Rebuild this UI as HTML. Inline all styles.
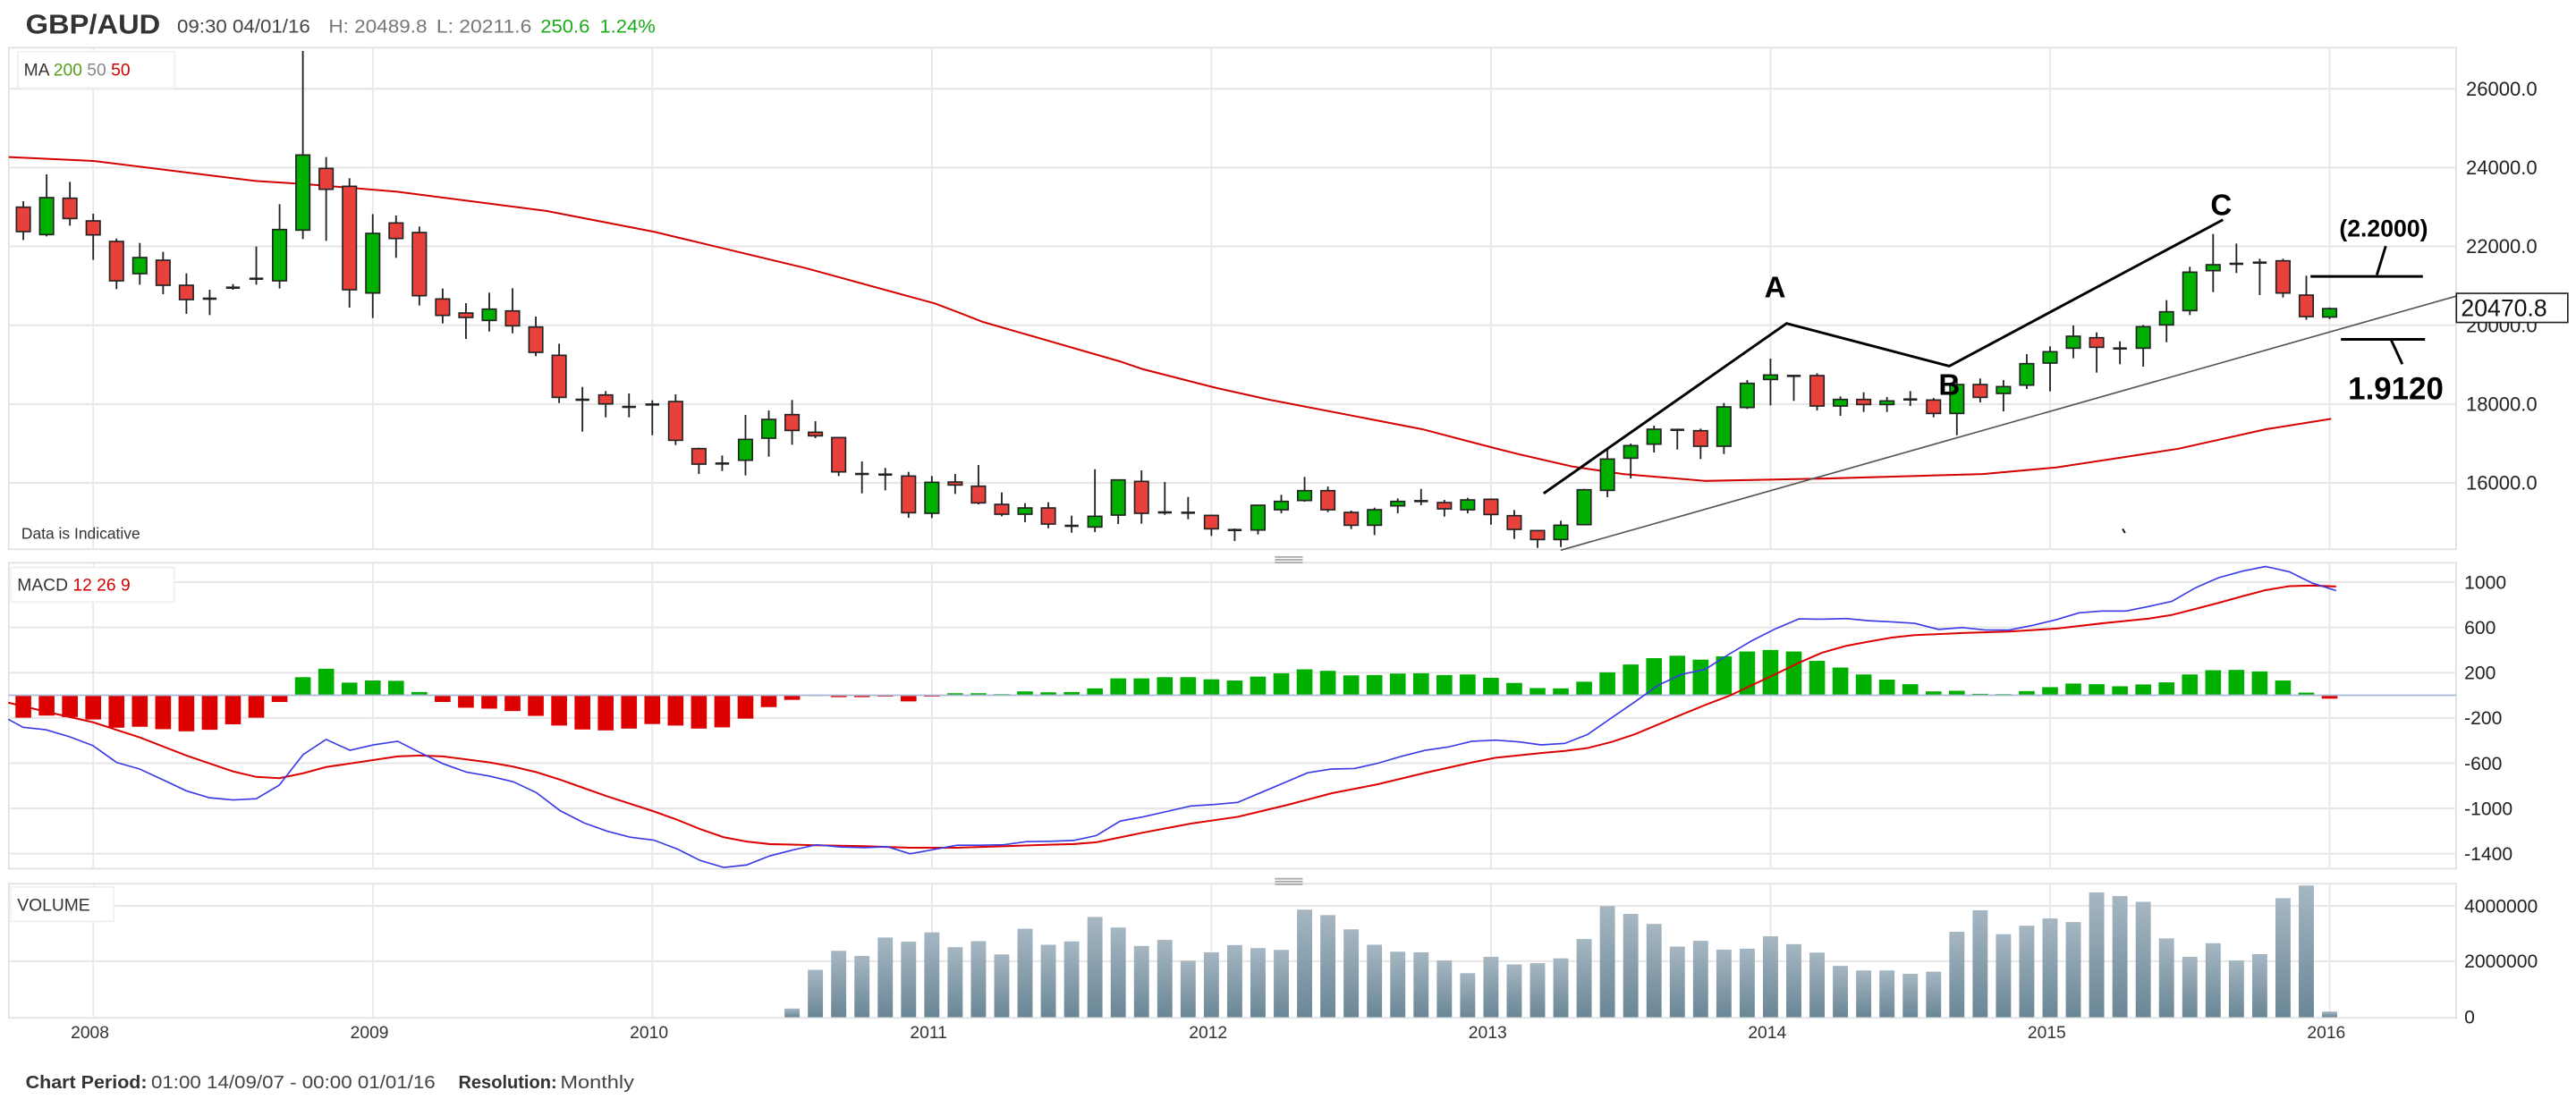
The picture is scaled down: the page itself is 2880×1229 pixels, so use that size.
<!DOCTYPE html>
<html><head><meta charset="utf-8"><style>
html,body{margin:0;padding:0;background:#fff;}
svg{display:block;}
text{font-family:"Liberation Sans",sans-serif;}
</style></head><body>
<svg id="s" xmlns="http://www.w3.org/2000/svg" width="2880" height="1229" viewBox="0 0 1568 669.1" preserveAspectRatio="none">
<defs><linearGradient id="vg" x1="0" y1="0" x2="0" y2="1"><stop offset="0" stop-color="#a6b7c2"/><stop offset="1" stop-color="#6a8696"/></linearGradient></defs>
<rect x="0" y="0" width="1568" height="669.1" fill="#fff"/>
<g id="grid"></g>
<g id="content"></g>
<text x="15.6" y="20.5" font-size="16.5" font-weight="bold" fill="#333" textLength="82" lengthAdjust="spacingAndGlyphs">GBP/AUD</text>
<text x="107.8" y="20" font-size="11.5" fill="#444" textLength="81" lengthAdjust="spacingAndGlyphs">09:30 04/01/16</text>
<text x="200" y="20" font-size="11.5" fill="#777" textLength="60" lengthAdjust="spacingAndGlyphs">H: 20489.8</text>
<text x="265.6" y="20" font-size="11.5" fill="#777" textLength="58" lengthAdjust="spacingAndGlyphs">L: 20211.6</text>
<text x="329" y="20" font-size="11.5" fill="#1aab1a" textLength="30" lengthAdjust="spacingAndGlyphs">250.6</text>
<text x="365" y="20" font-size="11.5" fill="#1aab1a" textLength="34" lengthAdjust="spacingAndGlyphs">1.24%</text>
<text x="15.6" y="662.5" font-size="11" font-weight="bold" fill="#333" textLength="74" lengthAdjust="spacingAndGlyphs">Chart Period:</text>
<text x="92" y="662.5" font-size="11" fill="#444" textLength="173" lengthAdjust="spacingAndGlyphs">01:00 14/09/07 - 00:00 01/01/16</text>
<text x="279" y="662.5" font-size="11" font-weight="bold" fill="#333" textLength="60" lengthAdjust="spacingAndGlyphs">Resolution:</text>
<text x="341" y="662.5" font-size="11" fill="#444" textLength="45" lengthAdjust="spacingAndGlyphs">Monthly</text>
</svg>
<script>
var NS="http://www.w3.org/2000/svg";
var G=document.getElementById('grid'),C=document.getElementById('content');
function el(p,t,a,txt){var e=document.createElementNS(NS,t);for(var k in a)e.setAttribute(k,a[k]);if(txt!=null)e.textContent=txt;p.appendChild(e);return e;}
function X(i){return 14.2+14.18*i;}
var R=1495;
// panels
el(G,'rect',{x:5.3,y:29,width:R-5.3,height:305.4,fill:'none',stroke:'#e2e2e2','stroke-width':1});
el(G,'rect',{x:5.3,y:342.6,width:R-5.3,height:186.3,fill:'none',stroke:'#e2e2e2','stroke-width':1});
el(G,'rect',{x:5.3,y:538,width:R-5.3,height:81.7,fill:'none',stroke:'#e2e2e2','stroke-width':1});
// handles
[338.6,534.5].forEach(function(y){for(var k=0;k<3;k++)el(G,'rect',{x:776,y:y+k*1.7,width:17,height:1,fill:'#aaa'});});
// price grid
var pl=[[54,'26000.0'],[102,'24000.0'],[150,'22000.0'],[198,'20000.0'],[246,'18000.0'],[294,'16000.0']];
pl.forEach(function(p){el(G,'line',{x1:5.3,x2:R,y1:p[0],y2:p[0],stroke:'#e6e6e6','stroke-width':1.1});el(G,'text',{x:1501,y:p[0]+4.2,'font-size':12,fill:'#222'},p[1]);});
// macd grid
function mzy(v){return 423.3-v*0.0689;}
[[1000,'1000'],[600,'600'],[200,'200'],[-200,'-200'],[-600,'-600'],[-1000,'-1000'],[-1400,'-1400']].forEach(function(p){var y=mzy(p[0]);el(G,'line',{x1:5.3,x2:R,y1:y,y2:y,stroke:'#e6e6e6','stroke-width':1.1});el(G,'text',{x:1500,y:y+4,'font-size':11.5,fill:'#222'},p[1]);});
// volume grid
[[551.6,'4000000'],[585.2,'2000000'],[619,'0']].forEach(function(p){if(p[1]!='0')el(G,'line',{x1:5.3,x2:R,y1:p[0],y2:p[0],stroke:'#e6e6e6','stroke-width':1.1});el(G,'text',{x:1500,y:p[0]+4,'font-size':11.5,fill:'#222'},p[1]);});
// year grid
var yrs=['2008','2009','2010','2011','2012','2013','2014','2015','2016'];
yrs.forEach(function(y,k){var x=X(3+12*k);[[29,334.4],[342.6,528.9],[538,619.7]].forEach(function(r){el(G,'line',{x1:x,x2:x,y1:r[0],y2:r[1],stroke:'#e8e8e8','stroke-width':1});});el(G,'text',{x:x-2,y:632,'font-size':10.5,fill:'#333','text-anchor':'middle'},y);});
// legends
el(G,'rect',{x:10.9,y:31.5,width:95.4,height:22,fill:'#fff',stroke:'#f0f0f0'});
var t=el(G,'text',{x:14.5,y:46,'font-size':10.5,fill:'#333'});
[['MA ','#333'],['200 ','#5a9e1a'],['50 ','#888'],['50','#d40000']].forEach(function(a){el(t,'tspan',{fill:a[1]},a[0]);});
el(G,'text',{x:13,y:328,'font-size':9.5,fill:'#333'},'Data is Indicative');
el(G,'rect',{x:6.3,y:345.5,width:99.7,height:21,fill:'#fff',stroke:'#f0f0f0'});
t=el(G,'text',{x:10.5,y:359.5,'font-size':10.5,fill:'#333'});
[['MACD ','#333'],['12 ','#d40000'],['26 ','#d40000'],['9','#d40000']].forEach(function(a){el(t,'tspan',{fill:a[1]},a[0]);});
el(G,'rect',{x:6.3,y:540,width:63,height:21,fill:'#fff',stroke:'#f0f0f0'});
el(G,'text',{x:10.5,y:554.5,'font-size':10.5,fill:'#333'},'VOLUME');

// candles
function z4(v){return (v/3+150)/1.8367;}function z5(v){return (v/3+300)/1.8367;}function z6(v){return (v/3+200)/1.8367;}
var c4=[['r',225,245,327,355],['g',135,213,337,343],['r',160,215,283,307],['r',267,291,338,422],['r',350,360,492,520],['g',365,414,468,505],['r',395,423,507,537],['r',467,507,555,603],['d',522,552,552,607],['d',503,515,515,522],['d',377,485,485,505],['g',235,320,492,518],['g',-279,70,322,352],['r',77,115,185,358],['r',148,175,522,582],['g',268,333,533,617],['r',273,298,350,415],['r',310,330,542,575],['r',518,553,608,635],['r',567,600,615,687],['g',532,587,625,662],['r',517,593,643,668],['r',612,647,732,745],['r',703,742,883,902],['d',848,891,891,998],['r',862,875,905,950],['d',870,915,915,950],['d',893,907,907,1010],['r',873,897,1027,1043],['r',1052,1055,1107,1140]];
var c5=[['d',628,655,660,680],['g',492,574,644,695],['g',477,507,570,632],['r',442,491,544,592],['r',513,550,562,570],['r',566,568,683,697],['d',648,690,690,755],['d',670,692,692,745],['r',683,697,820,837],['g',697,718,822,838],['r',690,717,727,757],['r',660,731,787,792],['r',752,792,825,832],['g',788,804,825,852],['r',785,804,858,872],['d',830,864,864,887],['g',674,832,868,885],['g',710,710,828,858],['r',678,715,822,857],['d',717,819,819,827],['d',767,820,820,842],['r',828,829,874,898],['d',873,878,878,915],['g',793,795,878,893],['g',760,782,810,822],['g',700,746,779,783],['r',732,746,810,818],['r',813,819,862,875],['g',803,810,862,895],['g',772,782,797,822],['d',740,781,781,795],['r',777,786,807,833],['g',770,777,810,822],['r',772,775,826,860],['r',811,830,876,908]];
var c6=[['r',1178,1180,1210,1238],['g',1147,1162,1210,1235],['g',1040,1043,1160,1160],['g',910,940,1045,1068],['g',888,895,937,1005],['g',828,840,890,918],['d',838,842,842,908],['r',838,845,897,940],['g',752,765,897,923],['g',675,686,767,772],['g',603,658,673,760],['d',660,661,661,745],['r',652,660,762,777],['g',730,740,762,795],['r',716,740,757,782],['g',732,745,757,782],['d',712,740,740,762],['r',735,742,787,800],['g',670,690,787,860],['r',670,690,733,750],['g',675,697,720,780],['g',588,620,692,705],['g',562,580,618,713],['g',492,528,568,602],['r',515,533,565,650],['d',545,569,569,622],['g',490,496,568,630],['g',407,446,490,548],['g',295,313,442,457],['g',185,288,308,380],['d',217,285,285,316],['d',268,281,281,390],['r',268,275,383,398],['r',325,390,462,473]];
var candles=[];
c4.forEach(function(c){candles.push([c[0],z4(c[1]),z4(c[2]),z4(c[3]),z4(c[4])]);});
c5.forEach(function(c){candles.push([c[0],z5(c[1]),z5(c[2]),z5(c[3]),z5(c[4])]);});
c6.forEach(function(c){candles.push([c[0],z6(c[1]),z6(c[2]),z6(c[3]),z6(c[4])]);});
candles.push(['g',187.2,187.9,193,194.3]);
// MA line
var ma=[[5.3,95.6],[57,98],[155.6,110.2],[184.7,112],[241.7,116.7],[333,128.5],[398.6,141.2],[435.6,150.1],[490.7,163.3],[569.2,184.8],[584.4,190.6],[598.3,196],[681.6,220],[695.5,224.7],[739.6,236],[771.9,243.2],[865.7,261.3],[910.8,273.1],[925.6,276.8],[956.8,284],[988,288.6],[1038,292.8],[1113,291.3],[1207,288.6],[1251.6,284.6],[1291,278.6],[1326,273.2],[1379,261.4],[1419,255]];
el(C,'polyline',{points:ma.map(function(p){return p.join(',');}).join(' '),fill:'none',stroke:'#d40000','stroke-width':1.1});
// trend line
el(C,'line',{x1:950,y1:335,x2:1495,y2:180.3,stroke:'#555','stroke-width':0.9});
candles.forEach(function(c,i){var x=X(i);
 el(C,'line',{x1:x,x2:x,y1:c[1],y2:c[4],stroke:'#222','stroke-width':1});
 if(c[0]=='d'){el(C,'line',{x1:x-4.2,x2:x+4.2,y1:c[2],y2:c[2],stroke:'#222','stroke-width':1.4});}
 else{var h=Math.max(c[3]-c[2],1.5);el(C,'rect',{x:x-4.2,y:c[2],width:8.4,height:h,fill:c[0]=='g'?'#00b000':'#e8403a',stroke:'#222','stroke-width':0.9});}
});
// ABC
el(C,'polyline',{points:'939.6,300.4 1087.5,196.9 1186.5,222.9 1353.1,133.8',fill:'none',stroke:'#000','stroke-width':1.6});
el(C,'text',{x:1080.5,y:181,'font-size':18,'font-weight':'bold','text-anchor':'middle',fill:'#000'},'A');
el(C,'text',{x:1186.5,y:240.5,'font-size':18,'font-weight':'bold','text-anchor':'middle',fill:'#000'},'B');
el(C,'text',{x:1352,y:131,'font-size':18,'font-weight':'bold','text-anchor':'middle',fill:'#000'},'C');
// annotations
el(C,'line',{x1:1406.4,x2:1474.8,y1:168.3,y2:168.3,stroke:'#000','stroke-width':1.6});
el(C,'line',{x1:1446.8,y1:167.4,x2:1452.2,y2:149.8,stroke:'#000','stroke-width':1.6});
el(C,'text',{x:1450.9,y:144,'font-size':14.5,'font-weight':'bold','text-anchor':'middle',fill:'#000'},'(2.2000)');
el(C,'line',{x1:1424.9,x2:1476.1,y1:206.6,y2:206.6,stroke:'#000','stroke-width':1.6});
el(C,'line',{x1:1455.5,y1:207,x2:1462.3,y2:221.7,stroke:'#000','stroke-width':1.6});
el(C,'text',{x:1458.3,y:243,'font-size':19,'font-weight':'bold','text-anchor':'middle',fill:'#000'},'1.9120');
el(C,'rect',{x:1495.2,y:178.6,width:67.8,height:17.7,fill:'#fff',stroke:'#222','stroke-width':0.9});
el(C,'text',{x:1498,y:192.5,'font-size':14.5,fill:'#111'},'20470.8');
el(C,'line',{x1:1292,y1:322,x2:1293.5,y2:324.5,stroke:'#000','stroke-width':1});
// MACD histogram
var h7=[540,533,538,546,573,570,578,585,580,562,540,488,406,378,424,417,418,455,488,507,510,518,534,566,579,582,576,561,566,576,572,543,505,481,464,472,472,469,486,470,459,459,462,453,456,455,443,410,410,406,406,413,417,404,393];
var h8=[380,385,400,399,394,393,399,397,408,425,442,443,421,390,364,343,335,348,337,321,316,321,352,374,397,414,429,453,451,461,462,452,439,427,429,436,430,423,397,383,382,387,417,457,477];
var hz=h7.concat(h8);
hz.forEach(function(v,i){var y=(v/2.958+620)/1.8367,x=X(i),z=423.3;var col=(y<z)?'#00b000':'#dd0000';if(i>=35&&i<=39&&y>z)col='#dd0000';
 var a=Math.min(y,z),b=Math.max(y,z);el(C,'rect',{x:x-4.8,y:a,width:9.6,height:Math.max(b-a,0.8),fill:col});});
el(C,'line',{x1:5.3,x2:R,y1:423.3,y2:423.3,stroke:'#a9b9d6','stroke-width':1});
function m7(p){return ((p[0]/1.089)/1.8367).toFixed(1)+','+((p[1]/2.958+620)/1.8367).toFixed(1);}
function m8(p){return ((p[0]/1.089+1440)/1.8367).toFixed(1)+','+((p[1]/2.958+620)/1.8367).toFixed(1);}
var b7=[[10,545],[28,572],[56,580],[85,603],[113,632],[142,688],[170,710],[198,745],[227,782],[255,805],[284,812],[312,808],[340,763],[369,662],[397,612],[426,648],[455,630],[484,618],[511,655],[539,692],[568,720],[596,733],[625,752],[653,788],[682,848],[711,888],[739,915],[767,935],[796,945],[825,975],[852,1012],[881,1035],[909,1027],[937,997],[966,977],[994,960],[1023,968],[1052,970],[1080,967],[1108,990],[1137,976],[1165,962],[1193,962],[1222,960],[1250,950],[1278,949],[1307,946],[1335,930],[1364,882],[1392,868],[1421,850],[1450,832],[1478,827],[1507,820],[1535,788],[1568,750]];
var b8=[[24,722],[53,710],[81,708],[110,690],[138,668],[167,648],[195,637],[224,618],[253,614],[282,620],[308,630],[337,625],[365,595],[394,540],[422,488],[451,432],[479,397],[508,380],[537,330],[565,285],[594,245],[622,213],[650,214],[679,212],[707,219],[735,223],[763,228],[792,248],[821,242],[849,250],[878,250],[906,235],[935,216],[963,193],[991,187],[1020,187],[1048,172],[1076,155],[1105,110],[1133,77],[1162,55],[1190,40],[1219,57],[1247,95],[1276,120]];
var r7=[[10,490],[56,520],[113,555],[170,605],[227,665],[284,718],[312,736],[340,740],[369,724],[397,703],[455,680],[484,668],[511,665],[539,668],[596,688],[625,702],[653,720],[682,745],[739,800],[796,850],[825,878],[852,908],[881,935],[909,950],[937,958],[994,962],[1052,965],[1108,970],[1165,970],[1222,965],[1278,960],[1307,958],[1335,952],[1392,920],[1450,890],[1507,868],[1568,828]];
var r8=[[53,790],[110,760],[167,722],[224,688],[253,672],[308,657],[337,650],[365,640],[394,620],[422,595],[451,562],[479,530],[508,498],[537,468],[565,432],[594,395],[622,358],[650,325],[679,303],[707,288],[735,275],[763,267],[821,260],[878,255],[935,245],[991,228],[1048,212],[1076,200],[1105,180],[1133,160],[1162,138],[1190,118],[1219,105],[1247,103],[1276,106]];
el(C,'polyline',{points:r7.map(m7).concat(r8.map(m8)).join(' '),fill:'none',stroke:'#dd0000','stroke-width':1.1});
el(C,'polyline',{points:b7.map(m7).concat(b8.map(m8)).join(' '),fill:'none',stroke:'#3a3ae6','stroke-width':0.9});
// volume
var v7=[1502,1374,1311,1328,1267,1281,1250,1299,1279,1323,1238,1291,1280,1199,1234,1295,1275,1344,1316,1292,1302,1308];
var v8=[1175,1193,1240,1291,1314,1316,1343,1385,1331,1356,1352,1336,1272,1163,1189,1222,1297,1278,1307,1304,1263,1289,1317,1361,1376,1376,1387,1380,1248,1177,1256,1228,1204,1216,1118,1130,1149,1270,1331,1286,1343,1322,1137,1095,1512];
v7.concat(v8).forEach(function(v,k){var i=33+k,y=(v/2.958+620)/1.8367,x=X(i);el(C,'rect',{x:x-4.6,y:y,width:9.2,height:619.3-y,fill:'url(#vg)'});});
</script>
</body></html>
